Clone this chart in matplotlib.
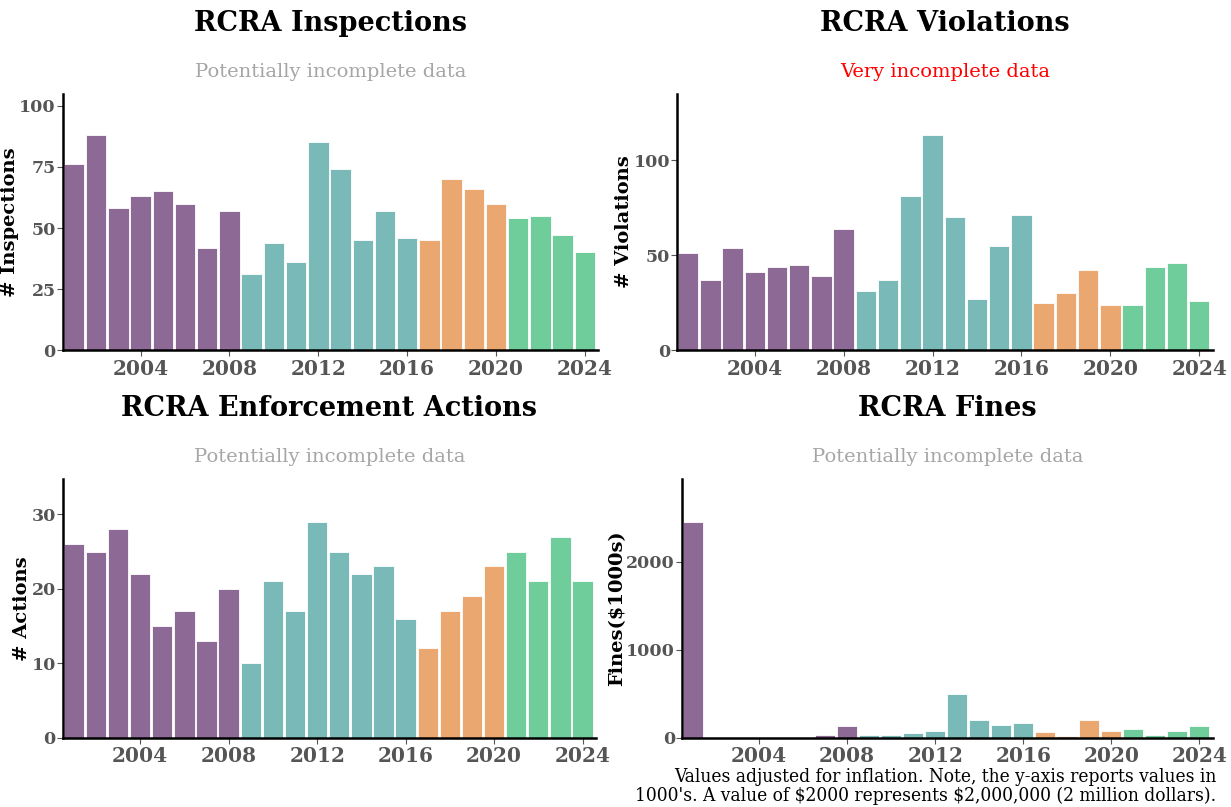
import matplotlib as mpl
import matplotlib.pyplot as plt
import numpy as np

mpl.rcParams['font.family'] = 'DejaVu Serif'

years = np.arange(2001, 2025)
inspections = [76, 88, 58, 63, 65, 60, 42, 57, 31, 44, 36, 85, 74, 45, 57, 46,
               45, 70, 66, 60, 54, 55, 47, 40]
violations = [51, 37, 54, 41, 44, 45, 39, 64, 31, 37, 81, 113, 70, 27, 55, 71,
              25, 30, 42, 24, 24, 44, 46, 26]
actions = [26, 25, 28, 22, 15, 17, 13, 20, 10, 21, 17, 29, 25, 22, 23, 16,
           12, 17, 19, 23, 25, 21, 27, 21]
fines = [2450, 0, 0, 0, 0, 0, 35, 130, 25, 35, 50, 75, 500, 200, 145, 170,
         60, 15, 200, 75, 100, 35, 75, 135]

# one colour per administration
purple, teal, orange, green = '#8d6a96', '#79b9b8', '#eba770', '#6ecd9a'
colors = [purple] * 8 + [teal] * 8 + [orange] * 4 + [green] * 4

panels = [
    ("RCRA Inspections", "Potentially incomplete data", '#a6a6a6', "# Inspections", inspections, 105, [0, 25, 50, 75, 100]),
    ("RCRA Violations", "Very incomplete data", 'red', "# Violations", violations, 135, [0, 50, 100]),
    ("RCRA Enforcement Actions", "Potentially incomplete data", '#a6a6a6', "# Actions", actions, 34.7, [0, 10, 20, 30]),
    ("RCRA Fines", "Potentially incomplete data", '#a6a6a6', "Fines($1000s)", fines, 2940, [0, 1000, 2000]),
]
positions = [
    [0.051, 0.566, 0.435, 0.318],
    [0.550, 0.566, 0.435, 0.318],
    [0.051, 0.086, 0.433, 0.320],
    [0.554, 0.086, 0.431, 0.320],
]

fig = plt.figure(figsize=(12.31, 8.07), dpi=100)

for (title, sub, subcol, ylab, vals, ymax, yt), pos in zip(panels, positions):
    ax = fig.add_axes(pos)
    ax.bar(years, vals, width=0.92, color=colors, edgecolor='white', linewidth=0.6)
    ax.set_xlim(2000.5, 2024.6)
    ax.set_ylim(0, ymax)
    ax.set_xticks([2004, 2008, 2012, 2016, 2020, 2024])
    ax.set_yticks(yt)
    ax.tick_params(axis='x', labelsize=14.5, labelcolor='#555555', color='#555555',
                   length=4, width=0.8, pad=2)
    ax.tick_params(axis='y', labelsize=12.5, labelcolor='#555555', color='#555555',
                   length=4, width=0.8, pad=1)
    for lbl in ax.get_xticklabels() + ax.get_yticklabels():
        lbl.set_fontweight('bold')
    for s in ['top', 'right']:
        ax.spines[s].set_visible(False)
    for s in ['left', 'bottom']:
        ax.spines[s].set_linewidth(1.8)
    ax.set_ylabel(ylab, fontsize=14, fontweight='bold', labelpad=0)
    ax.text(0.5, 1.275, title, transform=ax.transAxes, ha='center', va='center',
            fontsize=19.5, fontweight='bold')
    ax.text(0.5, 1.085, sub, transform=ax.transAxes, ha='center', va='center',
            fontsize=14, color=subcol)

fig.text(0.988, 0.003, "Values adjusted for inflation. Note, the y-axis reports values in\n"
         "1000's. A value of \\$2000 represents \\$2,000,000 (2 million dollars).",
         ha='right', va='bottom', fontsize=13.7, fontstretch='condensed',
         linespacing=1.0)

fig.savefig("out.png", dpi=100)
